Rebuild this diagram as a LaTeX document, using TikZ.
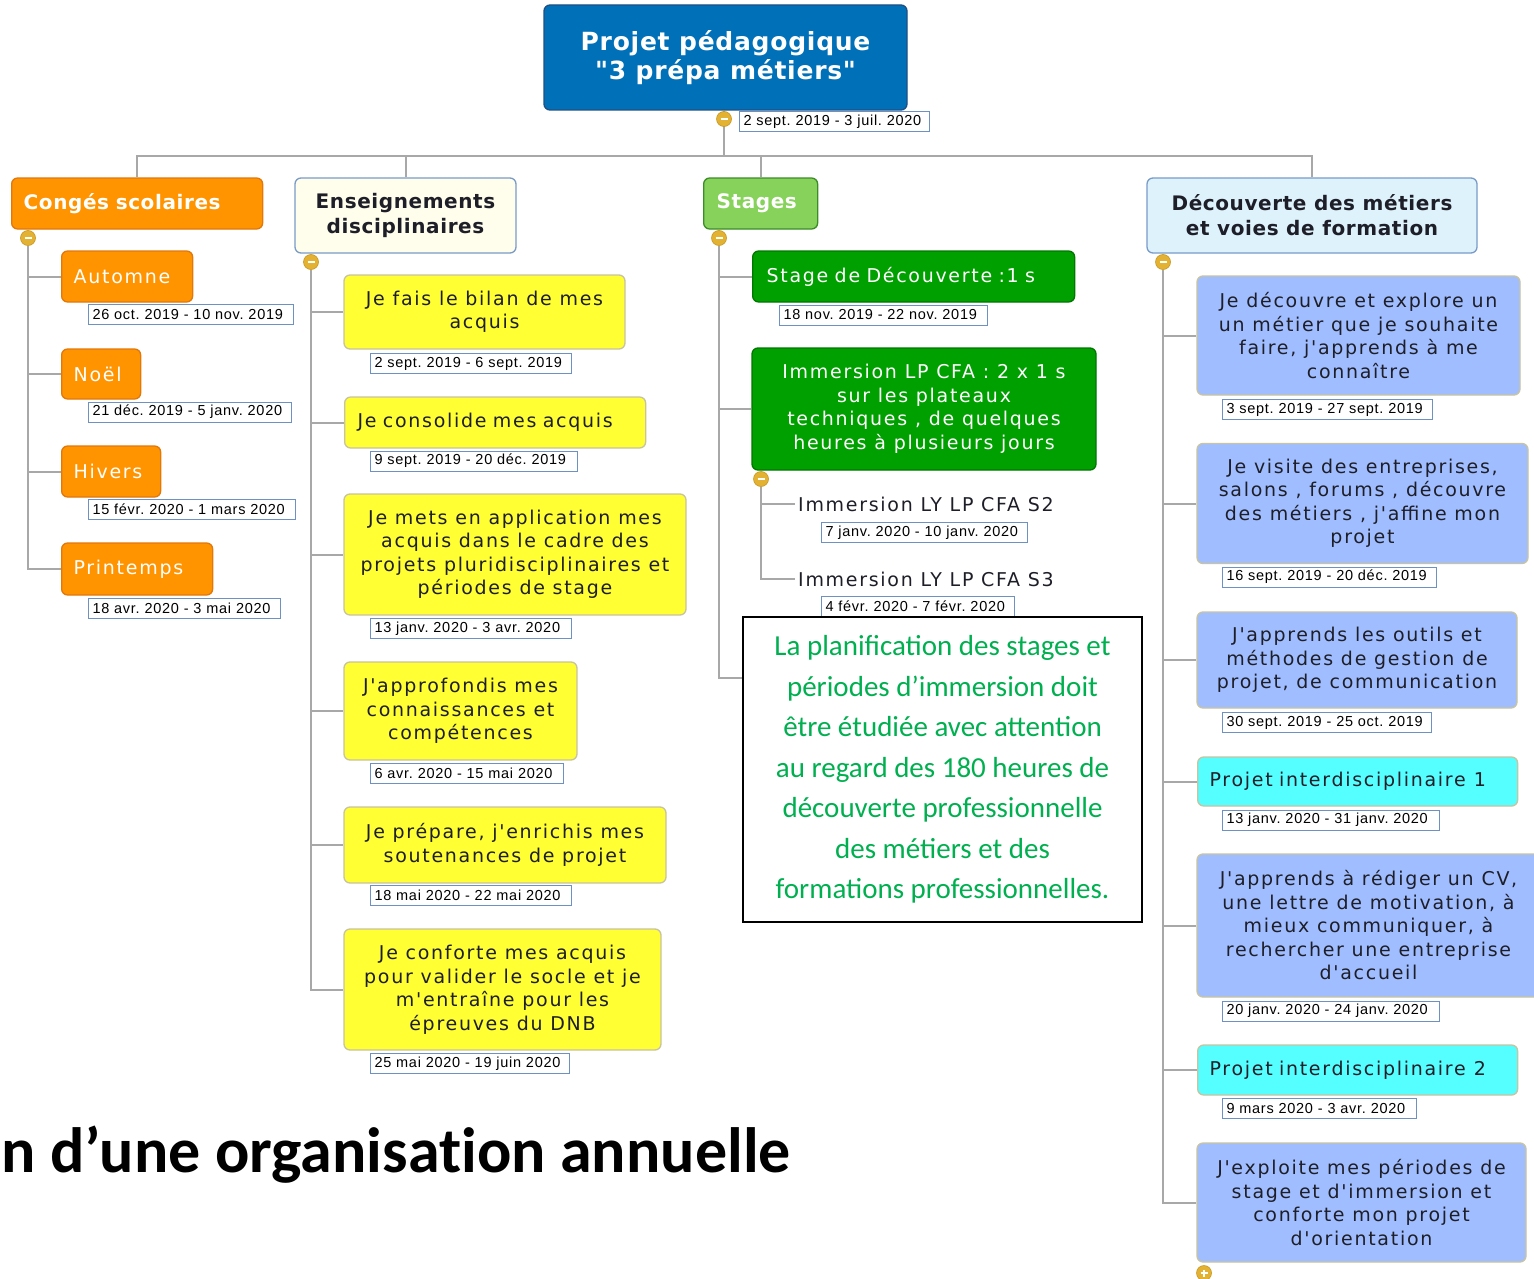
\documentclass[tikz,border=0pt]{standalone}
\usepackage{fontspec}
\setmainfont{DejaVu Sans}
\newfontfamily\dvfam[LetterSpace=9,Ligatures=TeXOff]{DejaVu Sans}
\newfontfamily\dvbfam[LetterSpace=3,Ligatures=TeXOff]{DejaVu Sans}
\newfontfamily\libfam[LetterSpace=5]{Liberation Sans}
\newfontfamily\carfam{Carlito}
\newfontfamily\cartitle[Ligatures={NoCommon}]{Carlito}
\newcommand\nodefont{\dvfam\fontsize{19}{23.5}\selectfont}
\newcommand\headfont{\dvbfam\bfseries\fontsize{20}{25}\selectfont}
\newcommand\rootfont{\dvbfam\bfseries\fontsize{25}{29}\selectfont}
\newcommand\datefont{\libfam\fontsize{14.5}{16}\selectfont}
\newcommand\notefont{\carfam\fontsize{29}{40.5}\selectfont}
\newcommand\titlefont{\cartitle\bfseries\fontsize{64}{70}\selectfont}
\frenchspacing
\definecolor{rootc}{RGB}{0,112,184}
\definecolor{rootb}{RGB}{30,80,130}
\definecolor{orng}{RGB}{255,148,0}
\definecolor{orngb}{RGB}{225,120,10}
\definecolor{lgreen}{RGB}{134,210,90}
\definecolor{lgreenb}{RGB}{60,140,40}
\definecolor{dgreen}{RGB}{0,160,0}
\definecolor{dgreenb}{RGB}{0,120,0}
\definecolor{yelc}{RGB}{255,255,51}
\definecolor{khaki}{RGB}{200,195,160}
\definecolor{cream}{RGB}{255,253,235}
\definecolor{bluegrey}{RGB}{120,155,200}
\definecolor{skyb}{RGB}{222,242,252}
\definecolor{peri}{RGB}{160,190,255}
\definecolor{cyanc}{RGB}{85,255,255}
\definecolor{datebd}{RGB}{110,145,195}
\definecolor{connc}{RGB}{168,168,168}
\definecolor{gold}{RGB}{228,178,50}
\definecolor{goldb}{RGB}{200,150,30}
\definecolor{txtgreen}{RGB}{0,176,80}
\definecolor{darktxt}{RGB}{30,30,40}
\pgfdeclarelayer{bg}
\pgfsetlayers{bg,main}
\tikzset{
  conn/.style={draw=connc, line width=2},
  box/.style={rounded corners=6, line width=1.3, align=center, inner sep=0, font=\nodefont},
  leftbox/.style={box, anchor=west, align=left, inner xsep=12},
  rootbox/.style={box, fill=rootc, draw=rootb, text=white, font=\rootfont},
  orangebox/.style={leftbox, fill=orng, draw=orngb, text=white},
  yelbox/.style={box, fill=yelc, draw=khaki, text=darktxt},
  peribox/.style={box, fill=peri, draw=khaki, text=darktxt},
  cyanbox/.style={leftbox, fill=cyanc, draw=khaki, text=darktxt},
  greenbox/.style={box, fill=dgreen, draw=dgreenb, text=white},
  headbox/.style={box, draw=bluegrey, text=darktxt, font=\headfont},
  datebox/.style={draw=datebd, fill=white, line width=1, font=\datefont, inner xsep=4, inner ysep=0, minimum height=20, anchor=west, text=black, align=left},
  coll/.style={circle, fill=gold, draw=goldb, line width=0.6, minimum size=15, inner sep=0,
    path picture={\draw[white, line width=2] ([xshift=-3.5]path picture bounding box.center) -- ([xshift=3.5]path picture bounding box.center);}},
  expd/.style={coll, path picture={\draw[white, line width=2] ([xshift=-3.5]path picture bounding box.center) -- ([xshift=3.5]path picture bounding box.center) ([yshift=-3.5]path picture bounding box.center) -- ([yshift=3.5]path picture bounding box.center);}},
  plain/.style={anchor=west, font=\nodefont, text=darktxt, inner sep=3}
}
\begin{document}
\begin{tikzpicture}[x=1pt,y=-1pt]
\useasboundingbox (0,0) rectangle (1534,1279);
% root
\node[rootbox, minimum width=363, minimum height=105] (root) at (725.5,57.5) {Projet pédagogique\\"3 prépa métiers"};
\node[coll] (cr) at (724,119) {};
\node[datebox, text width=182] (droot) at (739,122) {2 sept. 2019 - 3 juil. 2020};
\coordinate (bus) at (724,156);
% Conges
\node[orangebox, text width=227, minimum height=51, font=\headfont] (cong) at (11,203.5) {Congés scolaires};
\node[coll] (c1) at (28,238) {};
\node[orangebox, text width=107, minimum height=51] (aut) at (61,276.5) {Automne};
\node[datebox, text width=197] (daut) at (88,314.5) {26 oct. 2019 - 10 nov. 2019};
\node[orangebox, text width=55, minimum height=50] (noel) at (61,374) {Noël};
\node[datebox, text width=195] (dnoel) at (88,412) {21 déc. 2019 - 5 janv. 2020};
\node[orangebox, text width=75, minimum height=51] (hiv) at (61,471.5) {Hivers};
\node[datebox, text width=199] (dhiv) at (88,509.5) {15 févr. 2020 - 1 mars 2020};
\node[orangebox, text width=127, minimum height=52] (print) at (61,569) {Printemps};
\node[datebox, text width=184] (dprint) at (88,608) {18 avr. 2020 - 3 mai 2020};
% Enseignements
\node[headbox, fill=cream, minimum width=221, minimum height=75] (ens) at (405.5,215.5) {Enseignements\\disciplinaires};
\node[coll] (c2) at (311,262) {};
\node[yelbox, minimum width=281, minimum height=74] (y1) at (484.5,312) {Je fais le bilan de mes\\acquis};
\node[datebox, text width=193] (dy1) at (370,363.5) {2 sept. 2019 - 6 sept. 2019};
\node[yelbox, anchor=west, align=left, inner xsep=13, text width=275, minimum height=51] (y2) at (344,422.5) {Je consolide mes acquis};
\node[datebox, text width=199] (dy2) at (370,461) {9 sept. 2019 - 20 déc. 2019};
\node[yelbox, minimum width=342, minimum height=121] (y3) at (515,554.5) {Je mets en application mes\\acquis dans le cadre des\\projets pluridisciplinaires et\\périodes de stage};
\node[datebox, text width=193] (dy3) at (370,628.5) {13 janv. 2020 - 3 avr. 2020};
\node[yelbox, minimum width=233, minimum height=98] (y4) at (460.5,711) {J'approfondis mes\\connaissances et\\compétences};
\node[datebox, text width=185] (dy4) at (370,773) {6 avr. 2020 - 15 mai 2020};
\node[yelbox, minimum width=322, minimum height=76] (y5) at (505,845) {Je prépare, j'enrichis mes\\soutenances de projet};
\node[datebox, text width=193] (dy5) at (370,895.5) {18 mai 2020 - 22 mai 2020};
\node[yelbox, minimum width=317, minimum height=121] (y6) at (502.5,989.5) {Je conforte mes acquis\\pour valider le socle et je\\m'entraîne pour les\\épreuves du DNB};
\node[datebox, text width=191] (dy6) at (370,1063.5) {25 mai 2020 - 19 juin 2020};
% Stages
\node[leftbox, fill=lgreen, draw=lgreenb, text=white, font=\headfont, inner xsep=13, text width=88, minimum height=51] (stg) at (703,203.5) {Stages};
\node[coll] (c3) at (719,238) {};
\node[greenbox, anchor=west, align=left, inner xsep=14, text width=294, minimum height=51] (g1) at (752,276.5) {Stage de Découverte :1 s};
\node[datebox, text width=200] (dg1) at (779,315) {18 nov. 2019 - 22 nov. 2019};
\node[greenbox, minimum width=344, minimum height=122] (g2) at (924,409) {Immersion LP CFA : 2 x 1 s\\sur les plateaux\\techniques , de quelques\\heures à plusieurs jours};
\node[coll] (c4) at (761,479) {};
\node[plain] (s2) at (795,504) {Immersion LY LP CFA S2};
\node[datebox, text width=198] (ds2) at (821,532.5) {7 janv. 2020 - 10 janv. 2020};
\node[plain] (s3) at (795,579) {Immersion LY LP CFA S3};
\node[datebox, text width=185] (ds3) at (821,606.5) {4 févr. 2020 - 7 févr. 2020};
\node[draw=black, line width=2, fill=white, minimum width=399, minimum height=305, font=\notefont, text=txtgreen, align=center, inner sep=0] (tb) at (942.5,769.5) {La planification des stages et\\périodes d’immersion doit\\être étudiée avec attention\\au regard des 180 heures de\\découverte professionnelle\\des métiers et des\\formations professionnelles.};
\coordinate (tbhook) at (743,678);
% Decouverte
\node[headbox, fill=skyb, minimum width=330, minimum height=75] (dec) at (1312,215.5) {Découverte des métiers\\et voies de formation};
\node[coll] (c5) at (1163,262) {};
\node[peribox, minimum width=323, minimum height=119] (b1) at (1358.5,335.5) {Je découvre et explore un\\un métier que je souhaite\\faire, j'apprends à me\\connaître};
\node[datebox, text width=202] (db1) at (1222,409.5) {3 sept. 2019 - 27 sept. 2019};
\node[peribox, minimum width=331, minimum height=120] (b2) at (1362.5,503.5) {Je visite des entreprises,\\salons , forums , découvre\\des métiers , j'affine mon\\projet};
\node[datebox, text width=206] (db2) at (1222,577) {16 sept. 2019 - 20 déc. 2019};
\node[peribox, minimum width=320, minimum height=96] (b3) at (1357,660) {J'apprends les outils et\\méthodes de gestion de\\projet, de communication};
\node[datebox, text width=201] (db3) at (1222,722.5) {30 sept. 2019 - 25 oct. 2019};
\node[cyanbox, text width=296, minimum height=49] (p1) at (1197,781.5) {Projet interdisciplinaire\hspace{8pt}1};
\node[datebox, text width=209] (dp1) at (1222,820) {13 janv. 2020 - 31 janv. 2020};
\node[peribox, minimum width=343, minimum height=143] (b4) at (1368.5,925.5) {J'apprends à rédiger un CV,\\une lettre de motivation, à\\mieux communiquer, à\\rechercher une entreprise\\d'accueil};
\node[datebox, text width=209] (db4) at (1222,1011) {20 janv. 2020 - 24 janv. 2020};
\node[cyanbox, text width=296, minimum height=50] (p2) at (1197,1070) {Projet interdisciplinaire\hspace{8pt}2};
\node[datebox, text width=186] (dp2) at (1222,1108.5) {9 mars 2020 - 3 avr. 2020};
\node[peribox, minimum width=329, minimum height=119] (b5) at (1361.5,1202.5) {J'exploite mes périodes de\\stage et d'immersion et\\conforte mon projet\\d'orientation};
\node[expd] (c6) at (1204,1273) {};
% title fragment
\node[anchor=base west, inner sep=0, font=\titlefont, text=black] (ttl) at (1,1172) {n d’une organisation annuelle};
% connectors
\begin{pgfonlayer}{bg}
\fill[white] (0,0) rectangle (1534,1279);
\draw[conn] (root.south -| cr) -- (bus);
\draw[conn] (bus) -| (cong.north);
\draw[conn] (bus) -| (ens.north);
\draw[conn] (bus) -| (stg.north);
\draw[conn] (bus) -| (dec.north);
\draw[conn] (c1) |- (aut.west);
\draw[conn] (c1) |- (noel.west);
\draw[conn] (c1) |- (hiv.west);
\draw[conn] (c1) |- (print.west);
\draw[conn] (c2) |- (y1.west);
\draw[conn] (c2) |- (y2.west);
\draw[conn] (c2) |- (y3.west);
\draw[conn] (c2) |- (y4.west);
\draw[conn] (c2) |- (y5.west);
\draw[conn] (c2) |- (y6.west);
\draw[conn] (c3) |- (g1.west);
\draw[conn] (c3) |- (g2.west);
\draw[conn] (c3) |- (tbhook);
\draw[conn] (c4) |- (s2.west);
\draw[conn] (c4) |- (s3.west);
\draw[conn] (c5) |- (b1.west);
\draw[conn] (c5) |- (b2.west);
\draw[conn] (c5) |- (b3.west);
\draw[conn] (c5) |- (p1.west);
\draw[conn] (c5) |- (b4.west);
\draw[conn] (c5) |- (p2.west);
\draw[conn] (c5) |- (b5.west);
\end{pgfonlayer}
\end{tikzpicture}
\end{document}
